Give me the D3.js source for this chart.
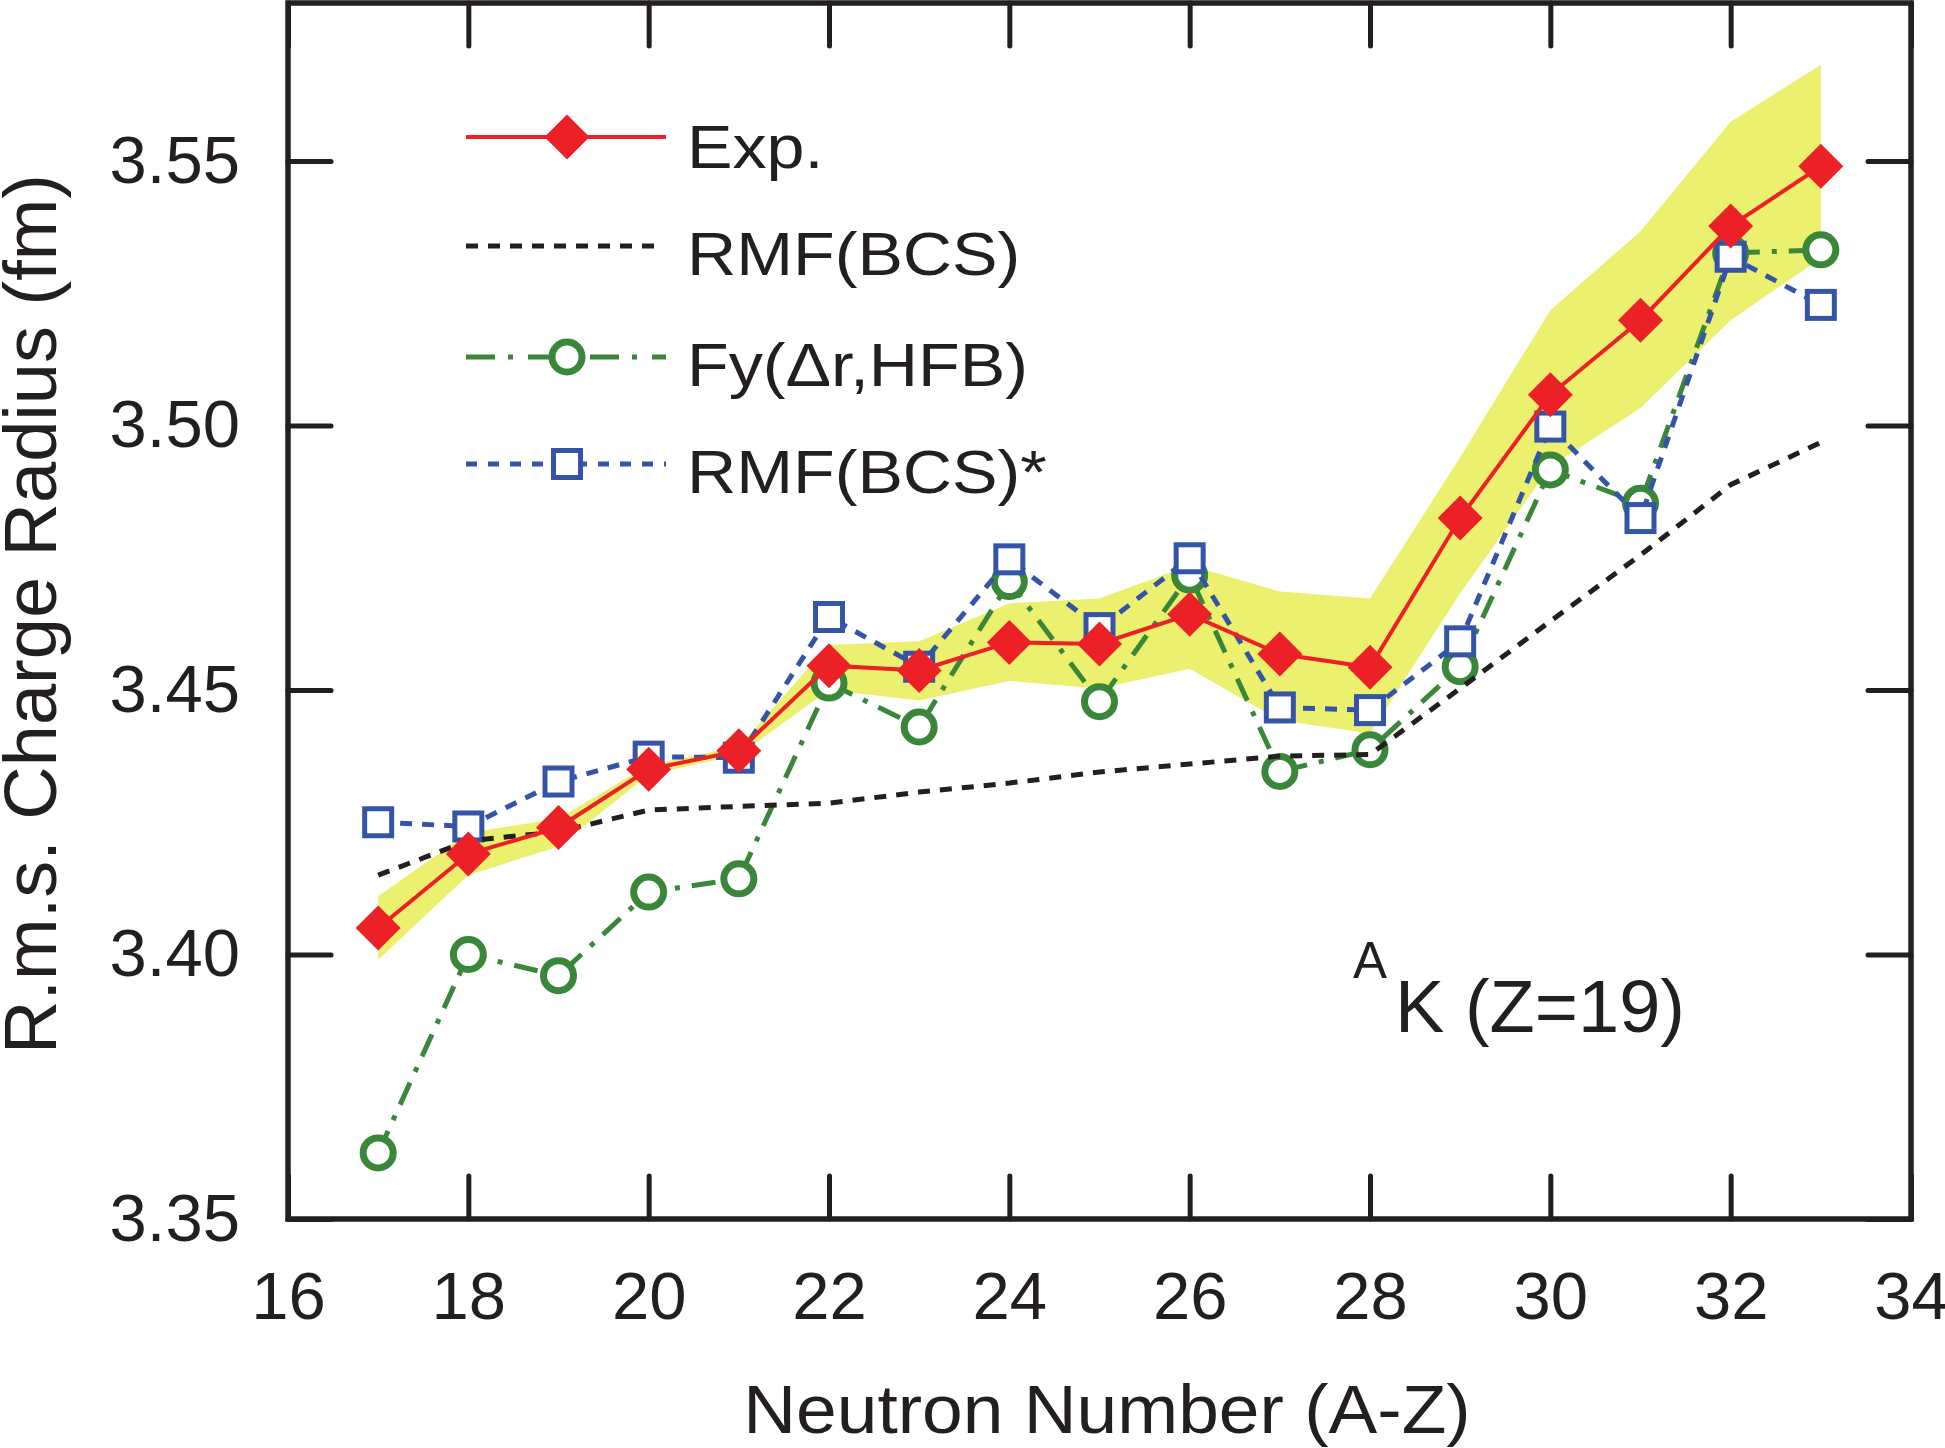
<!DOCTYPE html>
<html>
<head>
<meta charset="utf-8">
<script src="https://cdn.jsdelivr.net/npm/d3@7"></script>
<style>
  body { margin: 0; background: #fff; }
</style>
</head>
<body>
<div id="chart"></div>
<script>
// charge radii of K isotopes vs neutron number
var neutrons   = [17, 18, 19, 20, 21, 22, 23, 24, 25, 26, 27, 28, 29, 30, 31, 32, 33];
var expRadius  = [3.405, 3.419, 3.424, 3.435, 3.4385, 3.4546, 3.4537, 3.459, 3.4587, 3.4643, 3.4568, 3.4543, 3.4825, 3.5058, 3.5199, 3.5377, 3.549];
var expUpper   = [3.411, 3.423, 3.4257, 3.4358, 3.4393, 3.4585, 3.4592, 3.4664, 3.4673, 3.4736, 3.4686, 3.4673, 3.494, 3.5218, 3.5367, 3.5574, 3.5682];
var expLower   = [3.399, 3.415, 3.4204, 3.434, 3.4377, 3.450, 3.448, 3.4517, 3.4503, 3.454, 3.4443, 3.4418, 3.4683, 3.4922, 3.5033, 3.5199, 3.5316];
var rmfBcs     = [3.415, 3.4215, 3.4232, 3.4273, 3.428, 3.4286, 3.4307, 3.4324, 3.4345, 3.436, 3.4375, 3.4378, 3.4503, 3.463, 3.4755, 3.4888, 3.4968];
var fyHfb      = [3.3625, 3.400, 3.396, 3.4118, 3.4143, 3.4513, 3.443, 3.4705, 3.4478, 3.4717, 3.4346, 3.4387, 3.4544, 3.4916, 3.4853, 3.5326, 3.5332];
var rmfBcsStar = [3.425, 3.4242, 3.4327, 3.4374, 3.4372, 3.4638, 3.4544, 3.4747, 3.4617, 3.4749, 3.4467, 3.4462, 3.4592, 3.4998, 3.4825, 3.5319, 3.5228];
var xTicks = [16, 18, 20, 22, 24, 26, 28, 30, 32, 34];
var yTicks = [3.35, 3.40, 3.45, 3.50, 3.55];

var W = 1945, H = 1448;
var plotLeft = 288, plotRight = 1911, plotTop = 3, plotBottom = 1219;
var ink = "#231f20", red = "#ec2027", green = "#3a873a", blue = "#3454a8", band = "#ecf06f";
var font = "'Liberation Sans', Arial, Helvetica, sans-serif";

var svg = d3.select("#chart")
    .append("svg")
    .attr("width", W)
    .attr("height", H)
    .style("background", "#fff");

var x = d3.scaleLinear().domain([16, 34]).range([plotLeft, plotRight]);
var y = d3.scaleLinear().domain([3.35, 3.55]).range([plotBottom, 161]);

var rows = neutrons.map(function(n, i) {
    return { n: n, exp: expRadius[i], hi: expUpper[i], lo: expLower[i],
             rmf: rmfBcs[i], fy: fyHfb[i], star: rmfBcsStar[i] };
});

// error band
svg.append("path")
    .datum(rows)
    .attr("fill", band)
    .attr("d", d3.area()
        .x(function(d) { return x(d.n); })
        .y0(function(d) { return y(d.lo); })
        .y1(function(d) { return y(d.hi); }));

function seriesLine(key) {
    return d3.line()
        .x(function(d) { return x(d.n); })
        .y(function(d) { return y(d[key]); });
}

// Fy(dr,HFB)
svg.append("path")
    .datum(rows)
    .attr("fill", "none")
    .attr("stroke", green)
    .attr("stroke-width", 5)
    .attr("stroke-dasharray", "24,12,5,12")
    .attr("d", seriesLine("fy"));
svg.selectAll(".fy")
    .data(rows).enter()
    .append("circle")
    .attr("cx", function(d) { return x(d.n); })
    .attr("cy", function(d) { return y(d.fy); })
    .attr("r", 15)
    .attr("fill", "#fff")
    .attr("stroke", green)
    .attr("stroke-width", 7);

// RMF(BCS)*
svg.append("path")
    .datum(rows)
    .attr("fill", "none")
    .attr("stroke", blue)
    .attr("stroke-width", 5)
    .attr("stroke-dasharray", "12,10")
    .attr("d", seriesLine("star"));
svg.selectAll(".star")
    .data(rows).enter()
    .append("rect")
    .attr("x", function(d) { return x(d.n) - 13.5; })
    .attr("y", function(d) { return y(d.star) - 13.5; })
    .attr("width", 27)
    .attr("height", 27)
    .attr("fill", "#fff")
    .attr("stroke", blue)
    .attr("stroke-width", 5);

// RMF(BCS)
svg.append("path")
    .datum(rows)
    .attr("fill", "none")
    .attr("stroke", ink)
    .attr("stroke-width", 5)
    .attr("stroke-dasharray", "12,10")
    .attr("d", seriesLine("rmf"));

// Exp.
var diamond = d3.symbol().type(d3.symbolSquare).size(1012);
svg.append("path")
    .datum(rows)
    .attr("fill", "none")
    .attr("stroke", red)
    .attr("stroke-width", 4)
    .attr("d", seriesLine("exp"));
svg.selectAll(".exp")
    .data(rows).enter()
    .append("path")
    .attr("d", diamond)
    .attr("fill", red)
    .attr("transform", function(d) {
        return "translate(" + x(d.n) + "," + y(d.exp) + ") rotate(45)";
    });

// axes, ticks pointing inwards on all four sides
function styleAxis(g, labels) {
    g.select(".domain").remove();
    g.selectAll(".tick line")
        .attr("stroke", ink)
        .attr("stroke-width", 5)
        .attr("stroke-linecap", "round");
    g.selectAll(".tick text")
        .attr("fill", ink)
        .style("font-family", font)
        .style("font-size", labels ? "67px" : "0px");
}

svg.append("g")
    .attr("transform", "translate(0," + plotBottom + ")")
    .call(d3.axisBottom(x).tickValues(xTicks).tickSize(-43).tickPadding(52).tickFormat(d3.format("d")))
    .call(styleAxis, true);
svg.append("g")
    .attr("transform", "translate(0," + plotTop + ")")
    .call(d3.axisTop(x).tickValues(xTicks).tickSize(-43).tickFormat(""))
    .call(styleAxis, false);
svg.append("g")
    .attr("transform", "translate(" + plotLeft + ",0)")
    .call(d3.axisLeft(y).tickValues(yTicks).tickSize(-43).tickPadding(48).tickFormat(d3.format(".2f")))
    .call(styleAxis, true);
svg.append("g")
    .attr("transform", "translate(" + plotRight + ",0)")
    .call(d3.axisRight(y).tickValues(yTicks).tickSize(-43).tickFormat(""))
    .call(styleAxis, false);

svg.append("rect")
    .attr("x", plotLeft)
    .attr("y", plotTop)
    .attr("width", plotRight - plotLeft)
    .attr("height", plotBottom - plotTop)
    .attr("fill", "none")
    .attr("stroke", ink)
    .attr("stroke-width", 5.5);

// axis titles
svg.append("text")
    .attr("transform", "translate(1107,1433) scale(1.06,1)")
    .attr("text-anchor", "middle")
    .style("font-family", font)
    .style("font-size", "69px")
    .attr("fill", ink)
    .text("Neutron Number (A-Z)");
svg.append("text")
    .attr("transform", "translate(56,614) rotate(-90)")
    .attr("text-anchor", "middle")
    .style("font-family", font)
    .style("font-size", "74px")
    .attr("fill", ink)
    .text("R.m.s. Charge Radius (fm)");

// nucleus label
var lab = svg.append("g").attr("fill", ink).style("font-family", font);
lab.append("text").attr("x", 1353).attr("y", 978).style("font-size", "51px").text("A");
lab.append("text").attr("x", 1395).attr("y", 1032).style("font-size", "74px").text("K (Z=19)");

// legend
var legend = [
    { name: "Exp.",        color: red,   width: 4, dash: null,          mark: "diamond", ly: 137, ty: 168 },
    { name: "RMF(BCS)",    color: ink,   width: 5, dash: "12,10",       mark: null,      ly: 246, ty: 275 },
    { name: "Fy(\u0394r,HFB)", color: green, width: 5, dash: "29,13,5,15", mark: "circle", ly: 357, ty: 386 },
    { name: "RMF(BCS)*",   color: blue,  width: 5, dash: "11,11",       mark: "square",  ly: 464, ty: 493 }
];
var lg = svg.append("g");
legend.forEach(function(d) {
    lg.append("line")
        .attr("x1", 466).attr("x2", d.mark ? 666 : 657)
        .attr("y1", d.ly).attr("y2", d.ly)
        .attr("stroke", d.color)
        .attr("stroke-width", d.width)
        .attr("stroke-dasharray", d.dash);
    if (d.mark === "diamond") {
        lg.append("path").attr("d", diamond).attr("fill", d.color)
            .attr("transform", "translate(567," + d.ly + ") rotate(45)");
    } else if (d.mark === "circle") {
        lg.append("circle").attr("cx", 567).attr("cy", d.ly).attr("r", 15)
            .attr("fill", "#fff").attr("stroke", d.color).attr("stroke-width", 7);
    } else if (d.mark === "square") {
        lg.append("rect").attr("x", 567 - 13.5).attr("y", d.ly - 13.5)
            .attr("width", 27).attr("height", 27)
            .attr("fill", "#fff").attr("stroke", d.color).attr("stroke-width", 5);
    }
    lg.append("text")
        .attr("transform", "translate(687," + d.ty + ") scale(1.1,1)")
        .style("font-family", font)
        .style("font-size", "62px")
        .attr("fill", ink)
        .text(d.name);
});
</script>
</body>
</html>
